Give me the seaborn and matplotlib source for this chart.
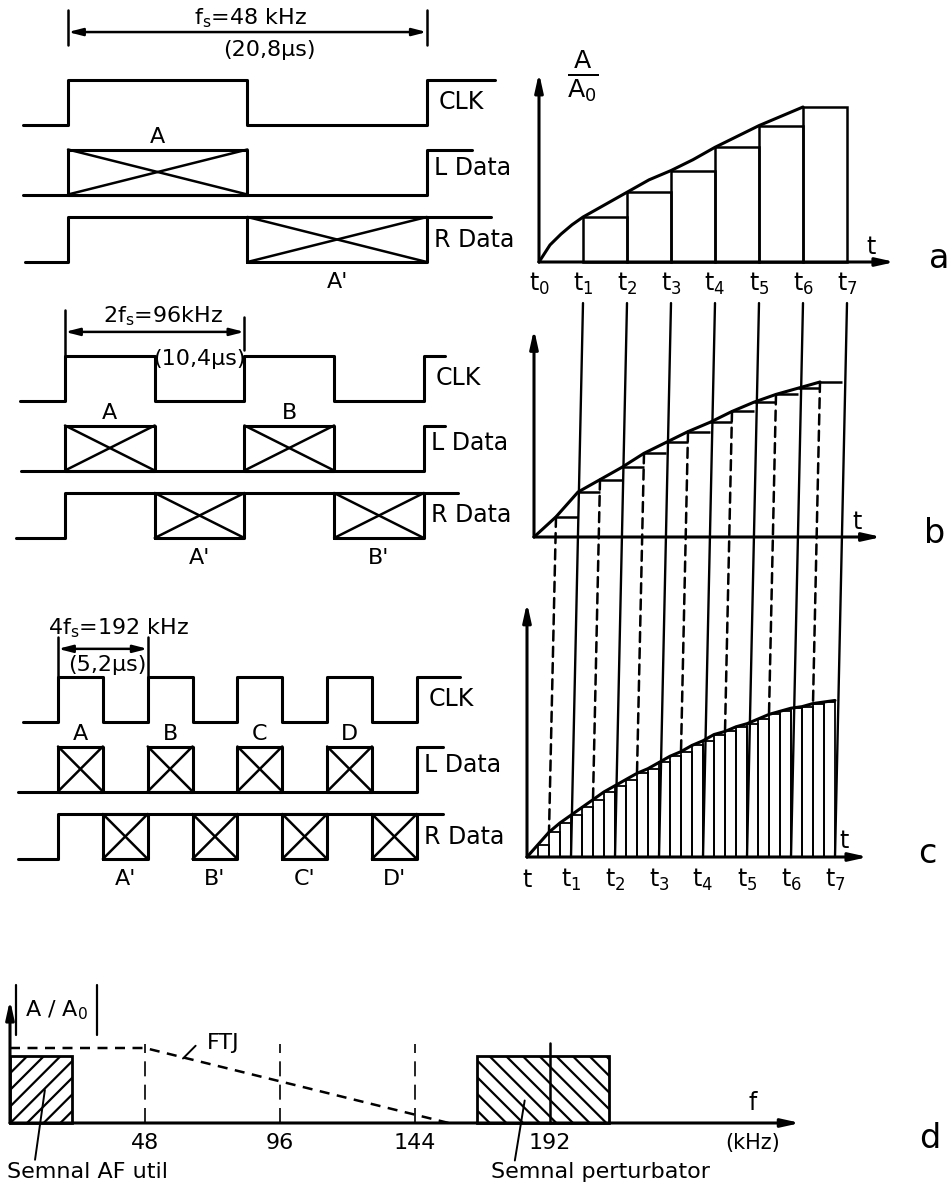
import numpy as np
import matplotlib
matplotlib.use("Agg")
import matplotlib.pyplot as plt
import seaborn as sns
from matplotlib.patches import ConnectionPatch

# Date citite din figura
# diagrame de timp (in microsecunde)
clk_edges_a = [0.0, 10.4, 20.8]
clk_edges_b = [0.0, 5.2, 10.4, 15.6, 20.8]
clk_edges_c = [0.0, 2.6, 5.2, 7.8, 10.4, 13.0, 15.6, 18.2, 20.8]
slots_L_a = ["A"]
slots_R_a = ["A'"]
slots_L_b = ["A", "B"]
slots_R_b = ["A'", "B'"]
slots_L_c = ["A", "B", "C", "D"]
slots_R_c = ["A'", "B'", "C'", "D'"]
freq_text = ["f$_\\mathrm{s}$=48 kHz", "2f$_\\mathrm{s}$=96kHz", "4f$_\\mathrm{s}$=192 kHz"]
period_text = ["(20,8\u03bcs)", "(10,4\u03bcs)", "(5,2\u03bcs)"]

# esantionare (A/A0)
t_labels_a = ["t$_\\mathrm{%d}$" % k for k in range(8)]
t_labels_c = ["t"] + ["t$_\\mathrm{%d}$" % k for k in range(1, 8)]
a_samples = [0.0, 0.29, 0.45, 0.59, 0.74, 0.88, 1.0]
a_curve_t = [0, 0.25, 0.5, 0.75, 1, 1.5, 2, 2.5, 3, 3.5, 4, 4.5, 5, 5.5, 6]
a_curve = [0.0, 0.11, 0.18, 0.24, 0.29, 0.37, 0.45, 0.53, 0.59, 0.66, 0.74, 0.81, 0.88, 0.94, 1.0]
b_samples = [0.0, 0.13, 0.29, 0.37, 0.45, 0.54, 0.61, 0.68, 0.74, 0.81, 0.87, 0.92, 0.96, 1.0]
c_samples = [0.0, 0.08, 0.16, 0.22, 0.27, 0.32, 0.37, 0.42, 0.46, 0.50, 0.54, 0.57, 0.61, 0.65,
             0.68, 0.72, 0.75, 0.79, 0.81, 0.84, 0.86, 0.89, 0.92, 0.94, 0.96, 0.97, 0.99, 1.0]
c_curve_end = 1.01

# spectru (kHz)
freq_ticks = [48, 96, 144, 192]
ftj_f = [0, 48, 156]
ftj_gain = [1.0, 1.0, 0.0]
af_band = [0, 22]
pert_band = [166, 213]
band_level = 0.9

sns.set_theme(style="white")
plt.rcParams["font.family"] = ["DejaVu Sans"]
plt.rcParams["mathtext.fontset"] = "dejavusans"
plt.rcParams["text.color"] = "black"
plt.rcParams["hatch.linewidth"] = 1.6

W, H = 948, 1189
fig = plt.figure(figsize=(W / 100, H / 100), dpi=100)
fig.patch.set_facecolor("white")


def make_axes(rect, origin, scale):
    x0, y0, x1, y1 = rect
    ox, oy = origin
    sx, sy = scale
    ax = fig.add_axes([x0 / W, 1 - y1 / H, (x1 - x0) / W, (y1 - y0) / H])
    ax.set_xlim((x0 - ox) / sx, (x1 - ox) / sx)
    ax.set_ylim((oy - y1) / sy, (oy - y0) / sy)
    ax.axis("off")
    ax.patch.set_alpha(0)
    return ax


LW = 2.2
K = "black"
FS = 16


def box_x(ax, x0, x1, y0, y1):
    ax.plot([x0, x1, x1, x0, x0], [y0, y0, y1, y1, y0], color=K, lw=LW, clip_on=False)
    ax.plot([x0, x1], [y0, y1], color=K, lw=1.8, clip_on=False)
    ax.plot([x0, x1], [y1, y0], color=K, lw=1.8, clip_on=False)


def timing(ax, edges, Lnames, Rnames, ext, ftxt, ptxt, ftxt_pos, ptxt_pos, dim):
    clk, lrow, rrow = 3.05, 1.5, 0.0
    # CLK
    xs, ys, lev = [ext[0][0]], [clk], 0
    for e in edges:
        xs += [e, e]
        ys += [clk + lev, clk + 1 - lev]
        lev = 1 - lev
    xs.append(ext[0][1])
    ys.append(clk + lev)
    ax.plot(xs, ys, color=K, lw=LW, clip_on=False)
    # L Data / R Data
    ax.plot([ext[1][0], edges[-1], edges[-1], ext[1][1]], [lrow, lrow, lrow + 1, lrow + 1],
            color=K, lw=LW, clip_on=False)
    ax.plot([ext[2][0], edges[0], edges[0], ext[2][1]], [rrow, rrow, rrow + 1, rrow + 1],
            color=K, lw=LW, clip_on=False)
    for i, nm in enumerate(Lnames):
        x0, x1 = edges[2 * i], edges[2 * i + 1]
        box_x(ax, x0, x1, lrow, lrow + 1)
        ax.text((x0 + x1) / 2, lrow + 1.27, nm, ha="center", va="center", fontsize=FS)
    for i, nm in enumerate(Rnames):
        x0, x1 = edges[2 * i + 1], edges[2 * i + 2]
        box_x(ax, x0, x1, rrow, rrow + 1)
        ax.text((x0 + x1) / 2, rrow - 0.45, nm, ha="center", va="center", fontsize=FS)
    lx = edges[-1] + 0.4
    ax.text(lx + 0.3, clk + 0.5, "CLK", ha="left", va="center", fontsize=17)
    ax.text(lx, lrow + 0.6, "L Data", ha="left", va="center", fontsize=17)
    ax.text(lx, rrow + 0.5, "R Data", ha="left", va="center", fontsize=17)
    # cota perioadei
    t0, t1 = edges[0], edges[2]
    (l0, l1), (r0, r1), ya = dim
    ax.plot([t0, t0], [l0, l1], color=K, lw=1.8, clip_on=False)
    ax.plot([t1, t1], [r0, r1], color=K, lw=1.8, clip_on=False)
    ax.annotate("", xy=(t0, ya), xytext=(t1, ya),
                arrowprops=dict(arrowstyle="<|-|>,head_length=0.7,head_width=0.18",
                                color=K, lw=1.8, shrinkA=0, shrinkB=0))
    ax.text(ftxt_pos[0], ftxt_pos[1], ftxt, ha="center", va="center", fontsize=FS)
    ax.text(ptxt_pos[0], ptxt_pos[1], ptxt, ha="center", va="center", fontsize=FS)


ax_ta = make_axes((0, 0, 520, 300), (68, 262), (17.25, 45))
ax_tb = make_axes((0, 280, 520, 580), (65, 538), (17.25, 45))
ax_tc = make_axes((0, 590, 520, 905), (58, 859), (17.25, 45))

timing(ax_ta, clk_edges_a, slots_L_a, slots_R_a,
       [(-2.6, 24.75), (-2.6, 23.4), (-2.5, 24.5)],
       freq_text[0], period_text[0], (10.6, 5.42), (11.7, 4.71),
       [(4.82, 5.6), (4.82, 5.6), 5.11])
timing(ax_tb, clk_edges_b, slots_L_b, slots_R_b,
       [(-2.6, 22.0), (-2.55, 22.0), (-2.85, 22.8)],
       freq_text[1], period_text[1], (5.7, 4.93), (7.8, 3.98),
       [(4.05, 5.07), (4.18, 4.9), 4.58])
timing(ax_tc, clk_edges_c, slots_L_c, slots_R_c,
       [(-2.0, 23.3), (-2.3, 22.3), (-2.3, 22.3)],
       freq_text[2], period_text[2], (3.5, 5.13), (2.85, 4.31),
       [(4.05, 4.93), (3.05, 4.93), 4.67])

# panourile din dreapta
ax_ra = make_axes((500, 30, 948, 300), (539, 262), (44, 155))
ax_rb = make_axes((500, 300, 948, 560), (534, 537), (44, 155))
ax_rc = make_axes((500, 560, 948, 905), (527, 857), (44, 155))


def axis_arrow(ax, start, end, lw=LW):
    ax.annotate("", xy=end, xytext=start,
                arrowprops=dict(arrowstyle="-|>,head_length=0.9,head_width=0.2",
                                color=K, lw=lw, shrinkA=0, shrinkB=0))


arrow_top = [1.22, 1.34, 1.64]
arrow_right = [8.09, 7.9, 7.75]
letters = ["a", "b", "c"]
for ax, top, right, let in zip([ax_ra, ax_rb, ax_rc], arrow_top, arrow_right, letters):
    axis_arrow(ax, (0, 0), (0, top))
    axis_arrow(ax, (0, 0), (right, 0))
    ax.text(right - 0.55, 0.1, "t", ha="center", va="center", fontsize=17)
    ax.text(9.1, 0.02, let, ha="center", va="center", fontsize=24)

# a) esantionare la fs
ta = np.arange(len(a_samples))
ax_ra.bar(ta[1:], a_samples[1:], width=1.0, align="edge", fill=False,
          edgecolor=K, lw=1.8, clip_on=False)
sns.lineplot(x=a_curve_t, y=a_curve, ax=ax_ra, color=K, lw=LW)
for k, lab in enumerate(t_labels_a):
    ax_ra.text(k, -0.14, lab, ha="center", va="center", fontsize=17)
ax_ra.text(1.0, 1.2, r"$\frac{\mathrm{A}}{\mathrm{A_0}}$", ha="center", va="center", fontsize=26)

# b) esantionare la 2fs
tb = np.arange(len(b_samples)) * 0.5
ax_rb.hlines(b_samples[1:], tb[1:], tb[1:] + 0.5, color=K, lw=1.8)
sns.lineplot(x=tb, y=b_samples, ax=ax_rb, color=K, lw=LW)

# c) esantionare la 4fs
tc = np.arange(len(c_samples)) * 0.25
ax_rc.bar(tc, c_samples, width=0.25, align="edge", fill=False, edgecolor=K, lw=1.3,
          clip_on=False)
sns.lineplot(x=list(tc) + [7], y=c_samples + [c_curve_end], ax=ax_rc, color=K, lw=LW)
for k, lab in enumerate(t_labels_c):
    ax_rc.text(k, -0.15, lab, ha="center", va="center", fontsize=17)

# linii de legatura intre panouri
for k in range(1, 8):
    con = ConnectionPatch(xyA=(k, -0.265), coordsA=ax_ra.transData,
                          xyB=(k, 0), coordsB=ax_rc.transData, color=K, lw=1.7)
    fig.add_artist(con)
for k in range(7):
    tt = k + 0.5
    con = ConnectionPatch(xyA=(tt, b_samples[2 * k + 1]), coordsA=ax_rb.transData,
                          xyB=(tt, c_samples[4 * k + 2]), coordsB=ax_rc.transData,
                          color=K, lw=1.8, linestyle=(0, (4, 2.5)))
    fig.add_artist(con)

# d) spectrul
ax_d = make_axes((0, 975, 948, 1189), (10, 1123), (2.8125, 75))
ax_d.bar([af_band[0]], [band_level], width=af_band[1] - af_band[0], align="edge",
         fill=False, hatch="//", edgecolor=K, lw=2.0)
ax_d.bar([pert_band[0]], [band_level], width=pert_band[1] - pert_band[0], align="edge",
         fill=False, hatch="\\\\", edgecolor=K, lw=2.0)
ax_d.plot([freq_ticks[3], freq_ticks[3]], [0, 1.07], color=K, lw=1.8)
for f in freq_ticks[:3]:
    ax_d.plot([f, f], [0, 1.05], color=K, lw=1.2, linestyle=(0, (9, 5)))
ax_d.plot(ftj_f, ftj_gain, color=K, lw=1.8, linestyle=(0, (4, 3)))
axis_arrow(ax_d, (0, 0), (0, 1.64))
axis_arrow(ax_d, (0, 0), (281, 0))
for f in freq_ticks:
    ax_d.text(f, -0.27, str(f), ha="center", va="center", fontsize=FS)
ax_d.text(264, 0.27, "f", ha="center", va="center", fontsize=17)
ax_d.text(264, -0.27, "(kHz)", ha="center", va="center", fontsize=15)
ax_d.text(327, -0.2, "d", ha="center", va="center", fontsize=24)
# |A/A0|
ax_d.plot([2.0, 2.0], [1.17, 1.84], color=K, lw=1.6)
ax_d.plot([31.0, 31.0], [1.17, 1.84], color=K, lw=1.6)
ax_d.text(16.5, 1.5, "A / A$_\\mathrm{0}$", ha="center", va="center", fontsize=16)
ax_d.text(70, 1.07, "FTJ", ha="left", va="center", fontsize=FS)
ax_d.plot([66, 61.5], [1.03, 0.86], color=K, lw=1.4)
ax_d.plot([12.4, 8.9], [0.44, -0.49], color=K, lw=1.4)
ax_d.text(-1, -0.65, "Semnal AF util", ha="left", va="center", fontsize=FS)
ax_d.plot([183, 179.5], [0.3, -0.5], color=K, lw=1.4)
ax_d.text(171, -0.65, "Semnal perturbator", ha="left", va="center", fontsize=FS)

fig.savefig("out.png", dpi=100, facecolor="white")
